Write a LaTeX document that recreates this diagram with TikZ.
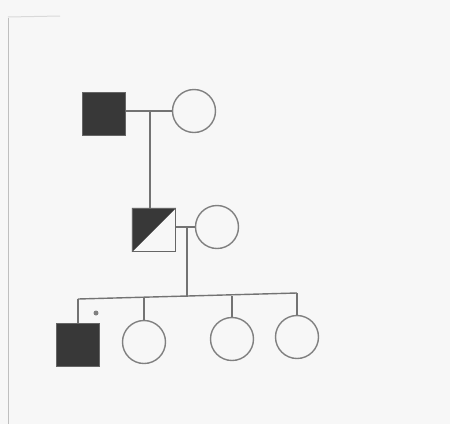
\documentclass[tikz,border=0pt]{standalone}
\begin{document}
\begin{tikzpicture}[x=1pt,y=-1pt,
  ln/.style={draw=black!55, line width=1.4pt},
  male/.style={rectangle, draw=black!60, line width=1.4pt, minimum size=43pt, inner sep=0pt},
  female/.style={circle, draw=black!50, line width=1.4pt, minimum size=43pt, inner sep=0pt},
  affected/.style={fill=black!78}]
\fill[black!3] (0,0) rectangle (450,424);
\useasboundingbox (0,0) rectangle (450,424);
\draw[black!25, line width=1pt] (8,18) -- (8,424);
\draw[black!15, line width=1pt] (8,17) -- (60,16);
% generation I
\node[male, affected] (m1) at (104,114) {};
\node[female] (f1) at (194,111) {};
\draw[ln] (m1.east |- f1) -- (f1.west);
\coordinate (mar1) at (150,111);
% generation II
\node[male] (m2) at (154,230) {};
\fill[black!78] (m2.north west) -- (m2.north east) -- (m2.south west) -- cycle;
\node[male] at (154,230) {};
\node[female] (f2) at (217,227) {};
\draw[ln] (mar1) -- (mar1 |- m2.north);
\draw[ln] (m2.east |- f2) -- (f2.west);
\coordinate (mar2) at (187,227);
% generation III
\coordinate (sibL) at (78,299);
\coordinate (sibR) at (297,293);
\node[male, affected] (c1) at (78,345) {};
\node[female] (c2) at (144,342) {};
\node[female] (c3) at (232,339) {};
\node[female] (c4) at (297,337) {};
\coordinate (s2) at (144,298);
\coordinate (s3) at (232,295.5);
\coordinate (smid) at (187,297);
\draw[ln] (mar2) -- (smid);
\draw[ln] (sibL) -- (sibR);
\draw[ln] (sibL) -- (c1.north);
\draw[ln] (s2) -- (c2.north);
\draw[ln] (s3) -- (c3.north);
\draw[ln] (sibR) -- (c4.north);
\node[circle, fill=black!50, inner sep=0pt, minimum size=5pt] (dot) at (96,313) {};
\end{tikzpicture}
\end{document}
